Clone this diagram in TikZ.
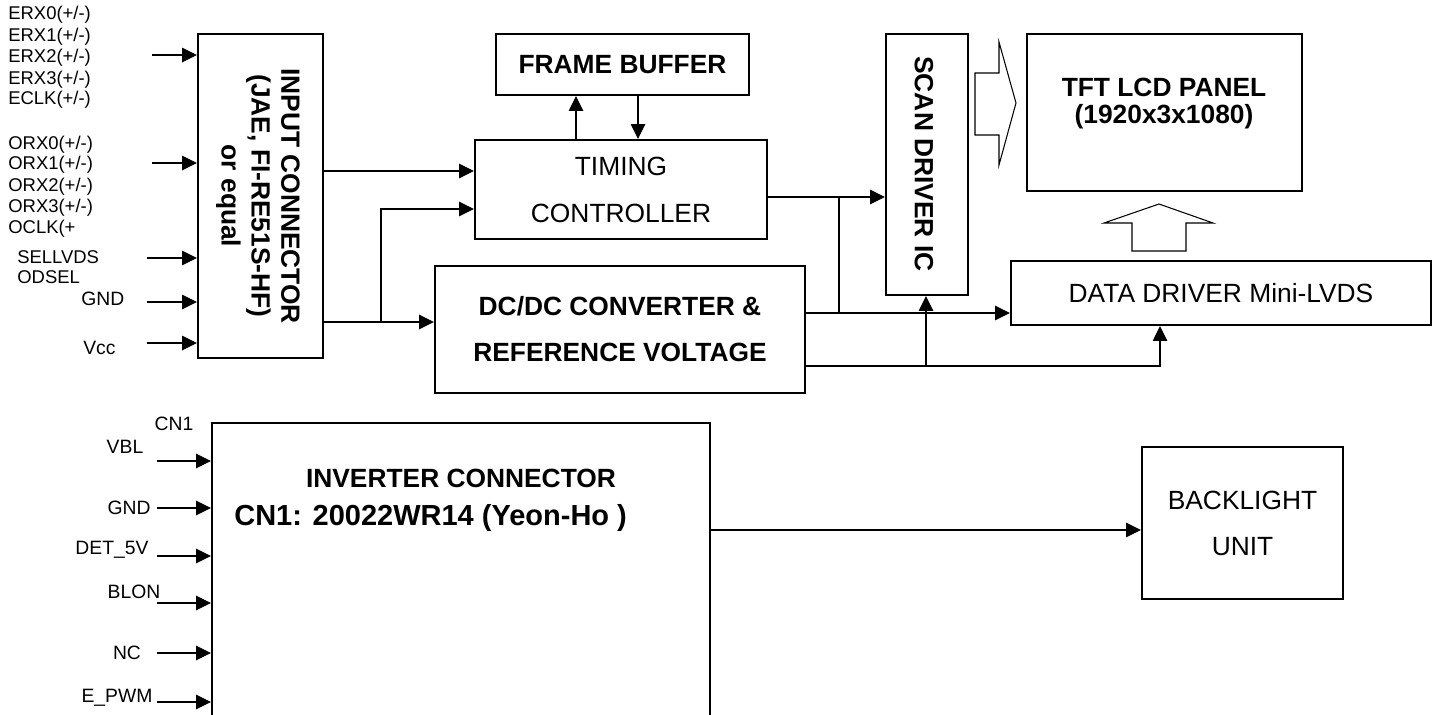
\documentclass[tikz,border=0pt]{standalone}
\usepackage{fontspec}
\setmainfont{Liberation Sans}
\usetikzlibrary{arrows.meta}

\begin{document}
\begin{tikzpicture}[x=0.02cm, y=-0.02cm,
    blk/.style={draw, line width=1.1pt, inner sep=0pt, align=center},
    arr/.style={-{Triangle[length=8.5pt,width=8pt]}, line width=1.2pt},
    ln/.style={line width=1.2pt},
    hollow/.style={draw, line width=0.6pt},
    pin/.style={font=\fontsize{10.5}{12}\selectfont, inner sep=0pt},
    sig/.style={font=\fontsize{11}{13}\selectfont, inner sep=0pt}]
\useasboundingbox (0,0) rectangle (1438,714);
\clip (0,0) rectangle (1438,714);

% blocks
\node[blk, minimum width=2.5cm, minimum height=6.48cm] (in) at (260.5,196) {};
\node[rotate=-90, align=center, font=\bfseries\fontsize{15}{17}\selectfont] (intxt) at (258,196)
    {INPUT CONNECTOR\\(JAE, FI-RE51S-HF)\\or equal};
\node[blk, minimum width=5.06cm, minimum height=1.22cm, font=\bfseries\fontsize{15}{18}\selectfont] (fb) at (622.5,64.5) {FRAME BUFFER};
\node[blk, minimum width=5.84cm, minimum height=1.98cm, font=\fontsize{15}{26.7}\selectfont] (tc) at (621,189.5) {TIMING\\CONTROLLER};
\node[blk, minimum width=7.4cm, minimum height=2.54cm, font=\bfseries\fontsize{15}{26.2}\selectfont] (dc) at (620,329.5) {DC/DC CONVERTER \&\\REFERENCE VOLTAGE};
\node[blk, minimum width=1.64cm, minimum height=5.22cm] (sd) at (927,164.5) {};
\node[rotate=-90, font=\bfseries\fontsize{15}{17}\selectfont] (sdtxt) at (924,164) {SCAN DRIVER IC};
\node[blk, minimum width=5.5cm, minimum height=3.14cm] (tft) at (1164.5,112.5) {};
\node[align=center, font=\bfseries\fontsize{15}{15.4}\selectfont] (tfttxt) at (1164,104) {TFT LCD PANEL\\(1920x3x1080)};
\node[blk, minimum width=8.4cm, minimum height=1.28cm, font=\fontsize{15}{18}\selectfont] (dd) at (1221,293) {DATA DRIVER Mini-LVDS};
\node[blk, minimum width=9.96cm, minimum height=6.74cm] (inv) at (461,591.5) {};
\node[font=\bfseries\fontsize{15}{18}\selectfont] (invtxt) at (461,478) {INVERTER CONNECTOR};
\node[anchor=west, inner sep=0pt, font=\bfseries\fontsize{16.5}{19}\selectfont] (cntxt) at (234,518) {CN1: 20022WR14 (Yeon-Ho )};
\node[blk, minimum width=4.02cm, minimum height=3.04cm, font=\fontsize{15}{26.2}\selectfont] (bl) at (1242.5,523) {BACKLIGHT\\UNIT};

% hollow arrows
\draw[hollow] (975,73) -- (999,73) -- (999,42) -- (1016,103) -- (999,165) -- (999,135) -- (975,135) -- cycle;
\draw[hollow] (1132,251) -- (1132,223) -- (1104,223) -- (1159,204) -- (1213,223) -- (1186,223) -- (1186,251) -- cycle;

% input pins
\foreach \y/\t [count=\i] in {15/{ERX0(+/-)}, 37/{ERX1(+/-)}, 58/{ERX2(+/-)}, 80/{ERX3(+/-)}, 100/{ECLK(+/-)},
    145/{ORX0(+/-)}, 165/{ORX1(+/-)}, 187/{ORX2(+/-)}, 208/{ORX3(+/-)}, 229/{OCLK(+}}
  \node[pin, anchor=west] (lbl\i) at (8,\y) {\t};
\node[pin, anchor=west] (sel) at (17,257) {SELLVDS};
\node[pin, anchor=west] (odsel) at (17,277) {ODSEL};
\node[sig, anchor=west] (gnd) at (81,299) {GND};
\node[sig, anchor=west] (vcc) at (83,348) {Vcc};
\foreach \y/\x [count=\i] in {55/152, 163/152, 258/147, 302/147, 343/147} {
  \coordinate (ip\i) at (\x,\y);
  \draw[arr] (ip\i) -- (ip\i -| in.west);
}

% inverter pins
\node[sig] (cn) at (174,424) {CN1};
\node[sig] (vbl) at (125,447) {VBL};
\node[sig] (gnd2) at (129,508) {GND};
\node[sig] (det) at (112,550) {DET\_5V};
\node[sig] (blon) at (134,592) {BLON};
\node[sig] (nc) at (127,653) {NC};
\node[sig] (pwm) at (117,698) {E\_PWM};
\foreach \y [count=\i] in {461, 508, 556, 603, 653, 702} {
  \coordinate (vp\i) at (157,\y);
  \draw[arr] (vp\i) -- (vp\i -| inv.west);
}

% signal paths
\coordinate (tap1) at (381,322);
\coordinate (tap2) at (839,197);
\coordinate (tap3) at (926,366);
\draw[arr] (in.east |- 0,171) -- (tc.west |- 0,171);
\draw[arr] (in.east |- tap1) -- (dc.west |- tap1);
\draw[arr] (tap1) |- (tc.west |- 0,209);
\draw[arr] (tc.north -| 576,0) -- (fb.south -| 576,0);
\draw[arr] (fb.south -| 638,0) -- (tc.north -| 638,0);
\draw[arr] (tc.east |- tap2) -- (sd.west |- tap2);
\draw[ln] (tap2) -- (tap2 |- 0,313);
\draw[arr] (dc.east |- 0,313) -- (dd.west |- 0,313);
\draw[arr] (dc.east |- tap3) -| (dd.south -| 1160,0);
\draw[arr] (tap3) -- (sd.south -| tap3);
\draw[arr] (inv.east |- 0,530) -- (bl.west |- 0,530);
\end{tikzpicture}
\end{document}
